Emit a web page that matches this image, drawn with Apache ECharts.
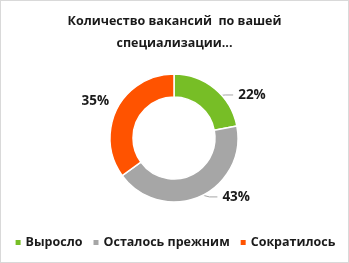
<!DOCTYPE html>
<html><head><meta charset="utf-8">
<script src="https://cdn.jsdelivr.net/npm/echarts@6/dist/echarts.min.js"></script>
<style>html,body{margin:0;padding:0;background:#fff}#c{width:349px;height:263px;box-sizing:border-box;border:1px solid #d9d9d9}</style>
</head><body><div id="c"></div>
<script>
var categories = ['Выросло', 'Осталось прежним', 'Сократилось'];
var values = [22, 43, 35];
var colors = ['#77BE26', '#A6A6A6', '#FF5300'];
var labelShift = [[0, 14], [2, -9], [18, -3]];
var chart = echarts.init(document.getElementById('c'));
chart.setOption({
  animation: false,
  title: {
    text: 'Количество вакансий  по вашей\nспециализации...',
    left: 'center', top: 4,
    textStyle: {fontFamily: 'Open Sans', fontWeight: 'bold', fontSize: 12.5, color: '#1a1a1a', lineHeight: 22}
  },
  legend: {
    bottom: 8, left: 'center', itemWidth: 7, itemHeight: 7, itemGap: 9,
    icon: 'rect',
    textStyle: {fontFamily: 'Open Sans', fontWeight: 'bold', fontSize: 12.5, color: '#1a1a1a', padding: [0,0,0,-1]},
    data: categories
  },
  series: [{
    type: 'pie', center: [173, 137], radius: [41, 64], startAngle: 90, clockwise: true,
    itemStyle: {borderColor: '#fff', borderWidth: 1.5},
    label: {formatter: '{d}%', fontFamily: 'Open Sans', fontWeight: 'bold', fontSize: 13.5, color: '#1a1a1a'},
    labelLine: {length: 10, length2: 12, lineStyle: {color: '#a6a6a6', width: 1}},
    labelLayout: function (p) {
      var s = labelShift[p.dataIndex];
      var r = {dx: s[0], dy: s[1]};
      var pts = p.labelLinePoints;
      if (pts && pts.length === 3) {
        var end = [pts[2][0] + s[0], pts[2][1] + s[1]];
        var dir = end[0] > pts[0][0] ? 1 : -1;
        var start = [pts[0][0] - dir * 6, pts[0][1] + (p.dataIndex === 0 ? 8 : -4)];
        r.labelLinePoints = [start, [end[0] - dir * 8, end[1]], end];
      }
      return r;
    },
    data: categories.map(function(c, i){
      var d = {name: c, value: values[i], itemStyle: {color: colors[i]}};
      if (i === 2) d.labelLine = {show: false};
      return d;
    })
  }]
});
</script></body></html>
